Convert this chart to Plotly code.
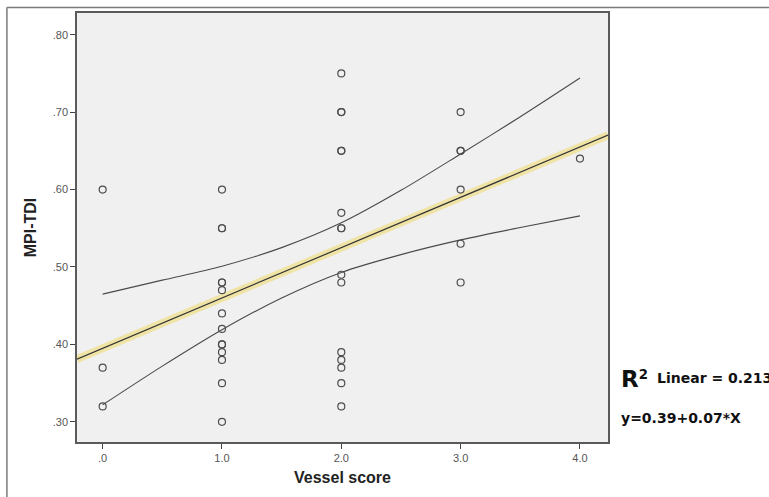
import plotly.graph_objects as go

# ---- data ----
vessel_score = [0, 0, 0,
                1, 1, 1, 1, 1, 1, 1, 1, 1, 1, 1, 1, 1, 1,
                2, 2, 2, 2, 2, 2, 2, 2, 2, 2, 2, 2, 2, 2, 2,
                3, 3, 3, 3, 3, 3,
                4]
mpi_tdi = [0.60, 0.37, 0.32,
           0.60, 0.55, 0.55, 0.48, 0.48, 0.47, 0.44, 0.42, 0.40, 0.40, 0.39, 0.38, 0.35, 0.30,
           0.75, 0.70, 0.70, 0.65, 0.65, 0.57, 0.55, 0.55, 0.49, 0.48, 0.39, 0.38, 0.37, 0.35, 0.32,
           0.70, 0.65, 0.65, 0.60, 0.53, 0.48,
           0.64]

fit_intercept = 0.395
fit_slope = 0.065

ci_x = [0, 0.5, 1, 1.5, 2, 2.5, 3, 3.5, 4]
ci_upper = [0.465, 0.483, 0.501, 0.525, 0.557, 0.599, 0.646, 0.694, 0.744]
ci_lower = [0.322, 0.372, 0.419, 0.460, 0.493, 0.516, 0.535, 0.551, 0.566]

x_range = [-0.215, 4.235]
y_range = [0.274, 0.828]
x_tickvals = [0, 1, 2, 3, 4]
x_ticktext = [".0", "1.0", "2.0", "3.0", "4.0"]
y_tickvals = [0.3, 0.4, 0.5, 0.6, 0.7, 0.8]
y_ticktext = [".30", ".40", ".50", ".60", ".70", ".80"]

fit_x = x_range
fit_y = [fit_intercept + fit_slope * v for v in fit_x]

FONT = "Liberation Sans, Arial"
WIDE = "DejaVu Sans"

fig = go.Figure()

# CI curves
for ys in (ci_upper, ci_lower):
    fig.add_trace(go.Scatter(x=ci_x, y=ys, mode="lines",
                             line=dict(color="#4a4a4a", width=1.1, shape="spline", smoothing=0.8),
                             hoverinfo="skip", showlegend=False))

# fit line glow + line
fig.add_trace(go.Scatter(x=fit_x, y=fit_y, mode="lines",
                         line=dict(color="#efe3a6", width=8),
                         hoverinfo="skip", showlegend=False, cliponaxis=False))
fig.add_trace(go.Scatter(x=fit_x, y=fit_y, mode="lines",
                         line=dict(color="#333333", width=1.2),
                         hoverinfo="skip", showlegend=False))

# points
fig.add_trace(go.Scatter(x=vessel_score, y=mpi_tdi, mode="markers",
                         marker=dict(symbol="circle-open", size=7,
                                     color="#4d4d4d", line=dict(width=1.2)),
                         showlegend=False))

axis_common = dict(showgrid=False, zeroline=False, showline=True,
                   linecolor="#5a5a5a", linewidth=1.5, mirror=True,
                   ticks="outside", ticklen=5, tickwidth=1.2, tickcolor="#444",
                   tickfont=dict(family=FONT, size=11, color="#555"))

fig.update_xaxes(range=x_range, tickvals=x_tickvals, ticktext=x_ticktext,
                 title=dict(text="<b>Vessel score</b>", standoff=9,
                            font=dict(family=FONT, size=16, color="#222")),
                 **axis_common)
fig.update_yaxes(range=y_range, tickvals=y_tickvals, ticktext=y_ticktext,
                 title=dict(text="<b>MPI-TDI</b>", standoff=12,
                            font=dict(family=FONT, size=16, color="#222")),
                 **axis_common)

fig.update_layout(
    width=769, height=497,
    margin=dict(l=77, r=161, t=11, b=55),
    paper_bgcolor="white", plot_bgcolor="#f0f0f0",
    shapes=[
        dict(type="line", xref="paper", yref="paper", x0=-0.132, x1=1.5, y0=1.0128, y1=1.0128,
             line=dict(color="#7a7a7a", width=1.5)),
        dict(type="line", xref="paper", yref="paper", x0=-0.132, x1=-0.132, y0=1.0128, y1=-0.2,
             line=dict(color="#7a7a7a", width=1.5)),
    ],
    annotations=[
        dict(xref="paper", yref="paper", x=1.021, y=0.146, xanchor="left", yanchor="middle",
             showarrow=False,
             text=("<b><span style='font-size:23px'>R</span>"
                   "<span style='font-size:19px'><sup>2</sup></span></b>"),
             font=dict(family=WIDE, size=14, color="#111")),
        dict(xref="paper", yref="paper", x=1.088, y=0.149, xanchor="left", yanchor="middle",
             showarrow=False, text="<b>Linear = 0.213</b>",
             font=dict(family=WIDE, size=14, color="#111")),
        dict(xref="paper", yref="paper", x=1.021, y=0.055, xanchor="left", yanchor="middle",
             showarrow=False, text="<b>y=0.39+0.07*X</b>",
             font=dict(family=WIDE, size=14, color="#111")),
    ],
)

fig.write_html("out.html",
               config={"displayModeBar": False},
               post_script="document.body.style.margin='0';document.body.style.overflow='hidden';")
